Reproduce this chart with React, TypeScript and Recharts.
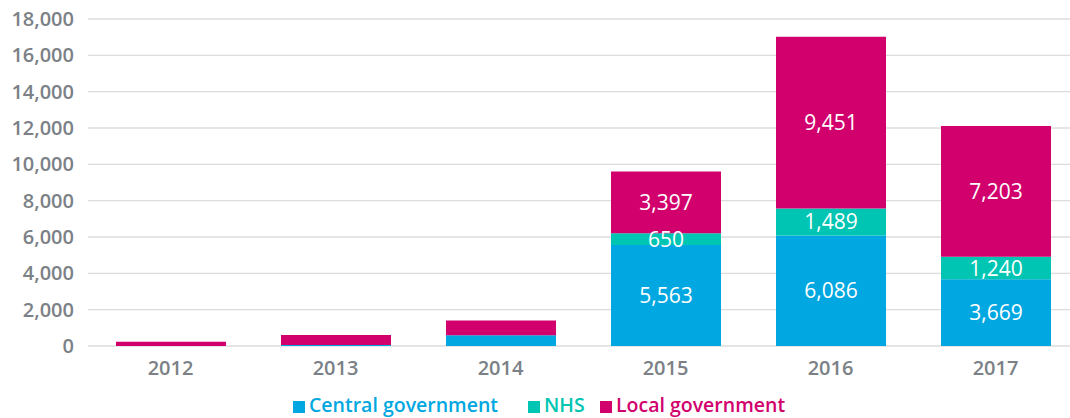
import React from 'react';
import { BarChart, Bar, XAxis, YAxis, CartesianGrid, LabelList } from 'recharts';

const YEARS = ['2012', '2013', '2014', '2015', '2016', '2017'];
const CENTRAL = [0, 50, 590, 5563, 6086, 3669];
const NHS = [0, 0, 0, 650, 1489, 1240];
const LOCAL = [240, 550, 810, 3397, 9451, 7203];
const Y_TICKS = [0, 2000, 4000, 6000, 8000, 10000, 12000, 14000, 16000, 18000];
const LABELLED_YEARS = ['2015', '2016', '2017'];

const BLUE = '#00a7e0';
const TEAL = '#00c5b2';
const PINK = '#d1006d';
const GREY = '#7b8186';
const FONT = '"Open Sans", "Noto Sans", sans-serif';

// label fields are null where the original shows no number
const chartData = YEARS.map((year, i) => {
  const show = LABELLED_YEARS.includes(year);
  return {
    year,
    central: CENTRAL[i],
    nhs: NHS[i],
    local: LOCAL[i],
    centralLabel: show ? CENTRAL[i] : null,
    nhsLabel: show ? NHS[i] : null,
    localLabel: show ? LOCAL[i] : null,
  };
});

const fmt = (v: number) => v.toLocaleString('en-GB');

const renderLabel = (props: any) => {
  const { x, y, width, height, value } = props;
  if (value == null) return null;
  return (
    <text
      x={x + width / 2}
      y={y + height / 2}
      dy="0.36em"
      textAnchor="middle"
      fill="#ffffff"
      fontSize={21}
      fontFamily={FONT}
    >
      {fmt(value)}
    </text>
  );
};

const LEGEND = [
  { name: 'Central government', color: BLUE, left: 293 },
  { name: 'NHS', color: TEAL, left: 528 },
  { name: 'Local government', color: PINK, left: 600 },
];

export default function App() {
  return (
    <div
      style={{
        position: 'fixed',
        top: 0,
        left: 0,
        width: 1070,
        height: 418,
        overflow: 'hidden',
        background: '#fff',
        fontFamily: FONT,
      }}
    >
      <BarChart
        width={1078}
        height={418}
        data={chartData}
        margin={{ top: 19, right: 0, left: 0, bottom: 42 }}
      >
        <CartesianGrid vertical={false} stroke="#dcdcdc" strokeWidth={1.3} />
        <XAxis
          dataKey="year"
          height={30}
          axisLine={false}
          tickLine={false}
          tickSize={6}
          tickMargin={9}
          tick={{ fill: GREY, fontSize: 20, fontWeight: 600, fontFamily: FONT }}
        />
        <YAxis
          width={88}
          domain={[0, 18000]}
          ticks={Y_TICKS}
          interval={0}
          axisLine={false}
          tickLine={false}
          tickSize={6}
          tickMargin={8}
          tickFormatter={fmt}
          tick={{ fill: GREY, fontSize: 20, fontWeight: 600, fontFamily: FONT }}
        />
        <Bar dataKey="central" stackId="a" fill={BLUE} barSize={110} isAnimationActive={false}>
          <LabelList dataKey="centralLabel" content={renderLabel} />
        </Bar>
        <Bar dataKey="nhs" stackId="a" fill={TEAL} barSize={110} isAnimationActive={false}>
          <LabelList dataKey="nhsLabel" content={renderLabel} />
        </Bar>
        <Bar dataKey="local" stackId="a" fill={PINK} barSize={110} isAnimationActive={false}>
          <LabelList dataKey="localLabel" content={renderLabel} />
        </Bar>
      </BarChart>
      {LEGEND.map(item => (
        <div
          key={item.name}
          style={{
            position: 'absolute',
            left: item.left,
            top: 392,
            display: 'flex',
            alignItems: 'center',
            color: item.color,
            fontSize: 19.5,
            fontWeight: 600,
            lineHeight: '26px',
          }}
        >
          <span style={{ display: 'inline-block', width: 12, height: 12, background: item.color, marginRight: 4, marginTop: 3 }} />
          {item.name}
        </div>
      ))}
    </div>
  );
}
